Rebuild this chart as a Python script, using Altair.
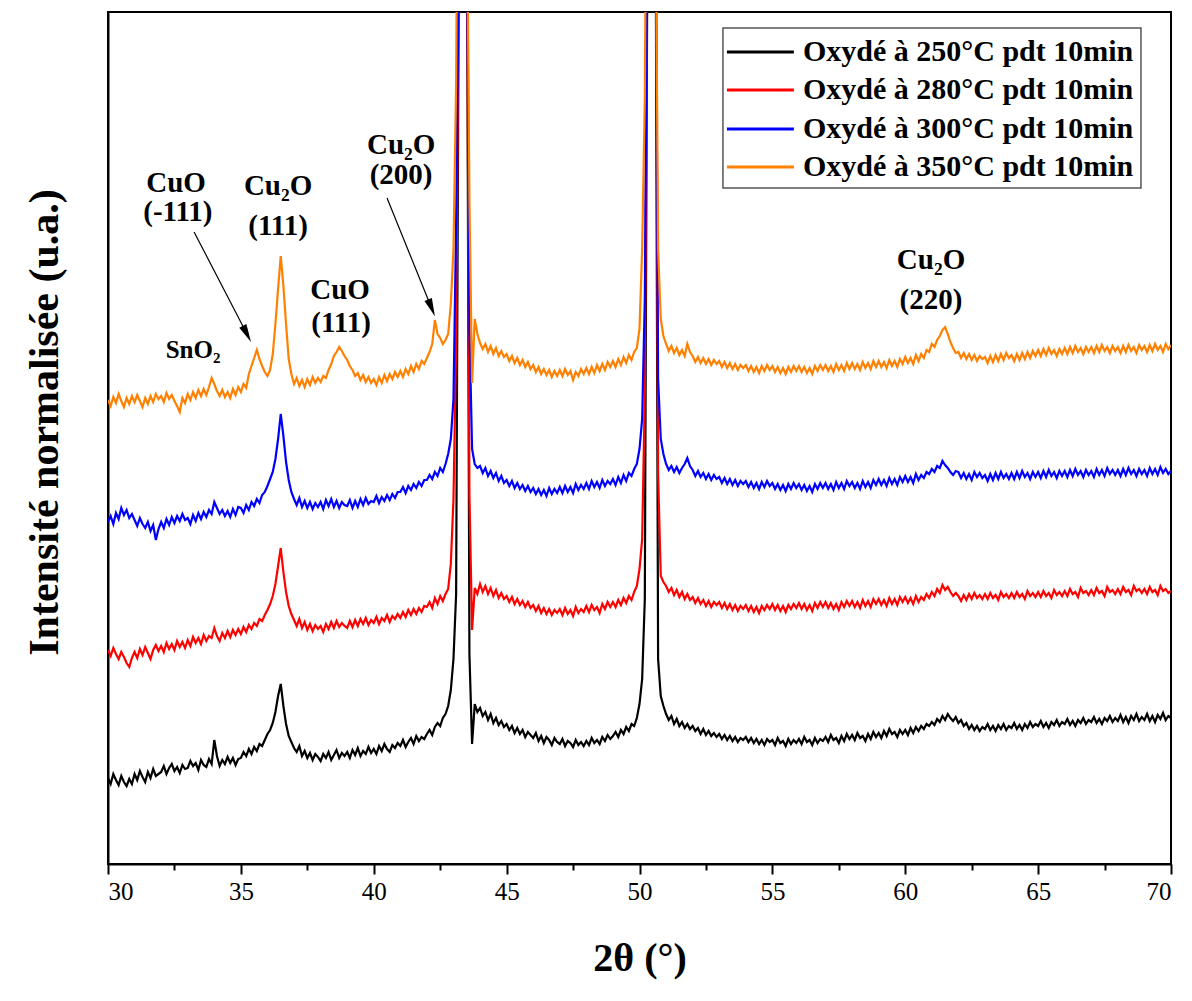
import altair as alt
import pandas as pd

SERIES = ["Oxydé à 250°C pdt 10min", "Oxydé à 280°C pdt 10min",
          "Oxydé à 300°C pdt 10min", "Oxydé à 350°C pdt 10min"]
COLORS = ["#000000", "#ff0000", "#0000ff", "#ff8000"]

# Each row holds one degree of 2θ (N.0 ... N.9, step 0.1), starting at 30°
BLACK = [
    [86, 80, 90, 84, 79, 88, 82, 78, 85, 80],
    [90, 84, 93, 87, 82, 92, 86, 95, 88, 90],
    [92, 98, 90, 96, 100, 93, 97, 91, 99, 95],
    [96, 103, 98, 101, 94, 104, 99, 97, 105, 100],
    [124, 108, 98, 104, 100, 107, 101, 106, 99, 105],
    [106, 112, 108, 115, 110, 117, 113, 120, 118, 124],
    [130, 134, 141, 152, 168, 180, 158, 140, 128, 122],
    [116, 112, 118, 108, 113, 106, 111, 104, 110, 107],
    [103, 110, 106, 112, 104, 109, 114, 106, 111, 108],
    [112, 106, 114, 109, 116, 108, 113, 110, 117, 111],
    [115, 110, 118, 113, 120, 115, 112, 119, 116, 121],
    [118, 124, 117, 122, 126, 120, 128, 123, 127, 125],
    [130, 134, 129, 137, 141, 138, 146, 150, 158, 174],
    [205, 270, 900, 3000, 3000, 1000, 210, 120, 160, 152],
    [156, 148, 152, 144, 150, 141, 146, 139, 143, 137],
    [140, 134, 138, 131, 136, 130, 134, 127, 132, 129],
    [126, 131, 123, 128, 121, 127, 124, 119, 126, 122],
    [120, 125, 118, 123, 121, 117, 124, 119, 122, 118],
    [123, 119, 126, 121, 124, 120, 127, 123, 129, 125],
    [128, 132, 127, 134, 130, 137, 133, 140, 138, 146],
    [160, 185, 265, 950, 3000, 3000, 1000, 205, 168, 158],
    [150, 144, 148, 140, 145, 138, 142, 136, 140, 135],
    [138, 133, 136, 130, 135, 129, 133, 128, 131, 127],
    [130, 125, 129, 124, 128, 123, 127, 122, 126, 124],
    [127, 122, 126, 121, 125, 120, 124, 119, 125, 122],
    [124, 119, 126, 121, 123, 118, 125, 120, 124, 121],
    [125, 120, 127, 122, 124, 119, 126, 121, 125, 123],
    [127, 122, 129, 124, 126, 121, 128, 123, 130, 125],
    [129, 124, 131, 126, 128, 123, 130, 125, 132, 127],
    [131, 126, 133, 128, 135, 130, 132, 127, 134, 130],
    [134, 129, 136, 131, 137, 133, 138, 135, 140, 138],
    [142, 139, 145, 142, 148, 144, 150, 146, 143, 147],
    [141, 144, 138, 141, 135, 139, 134, 138, 133, 137],
    [135, 140, 134, 138, 133, 139, 135, 140, 134, 138],
    [136, 141, 135, 139, 134, 140, 136, 142, 137, 140],
    [138, 143, 137, 141, 136, 142, 139, 144, 138, 142],
    [140, 145, 139, 143, 138, 144, 141, 146, 140, 144],
    [142, 147, 141, 145, 140, 146, 143, 148, 142, 146],
    [143, 149, 142, 147, 141, 148, 144, 150, 143, 147],
    [144, 150, 143, 148, 142, 149, 145, 151, 144, 148],
    [146],
]

RED = [
    [214, 208, 216, 210, 205, 212, 207, 201, 197, 206],
    [212, 206, 215, 209, 217, 211, 205, 214, 219, 213],
    [218, 212, 221, 215, 220, 214, 223, 217, 222, 216],
    [224, 218, 227, 221, 226, 220, 229, 223, 228, 226],
    [236, 228, 223, 231, 226, 233, 227, 234, 229, 235],
    [230, 237, 232, 239, 235, 241, 238, 245, 243, 249],
    [254, 260, 268, 280, 298, 316, 292, 272, 258, 250],
    [244, 238, 245, 236, 242, 234, 240, 233, 239, 235],
    [238, 232, 240, 235, 242, 236, 243, 237, 241, 238],
    [236, 243, 237, 244, 238, 245, 240, 246, 239, 244],
    [241, 247, 240, 246, 243, 249, 242, 248, 245, 250],
    [246, 252, 247, 254, 249, 255, 250, 256, 252, 258],
    [257, 262, 256, 266, 260, 268, 263, 270, 275, 300],
    [365, 520, 900, 3000, 3000, 1000, 370, 234, 276, 270],
    [280, 272, 278, 270, 276, 268, 274, 266, 271, 265],
    [268, 262, 267, 260, 265, 259, 263, 257, 262, 256],
    [259, 253, 258, 251, 256, 250, 255, 249, 254, 251],
    [255, 249, 256, 250, 254, 248, 257, 251, 255, 252],
    [258, 252, 259, 254, 257, 251, 260, 255, 262, 257],
    [262, 257, 264, 259, 266, 261, 268, 264, 272, 278],
    [295, 325, 470, 950, 3000, 3000, 1000, 390, 288, 282],
    [278, 272, 276, 269, 274, 267, 272, 265, 270, 264],
    [267, 261, 266, 260, 264, 258, 263, 257, 262, 259],
    [262, 256, 261, 255, 260, 254, 259, 253, 258, 255],
    [259, 253, 258, 252, 257, 251, 258, 254, 259, 255],
    [260, 254, 259, 253, 258, 252, 259, 255, 260, 256],
    [261, 255, 260, 254, 259, 253, 261, 256, 262, 257],
    [262, 256, 261, 255, 260, 254, 262, 257, 263, 258],
    [263, 257, 262, 256, 264, 258, 263, 257, 265, 260],
    [265, 259, 264, 258, 266, 260, 265, 259, 267, 262],
    [267, 261, 266, 260, 268, 262, 267, 264, 270, 266],
    [272, 268, 275, 271, 279, 274, 277, 272, 268, 271],
    [268, 263, 269, 264, 270, 265, 271, 266, 269, 265],
    [270, 265, 271, 266, 269, 264, 272, 267, 270, 266],
    [271, 266, 272, 267, 270, 265, 273, 268, 271, 267],
    [272, 267, 273, 268, 271, 266, 274, 269, 272, 268],
    [273, 268, 275, 270, 272, 267, 276, 271, 273, 269],
    [274, 269, 276, 271, 273, 268, 277, 272, 274, 270],
    [275, 270, 277, 272, 274, 269, 278, 273, 275, 271],
    [275, 270, 277, 272, 274, 269, 278, 273, 275, 271],
    [273],
]

BLUE = [
    [342, 348, 340, 351, 345, 356, 349, 354, 346, 350],
    [344, 338, 346, 340, 336, 342, 333, 339, 324, 335],
    [342, 336, 345, 339, 347, 341, 348, 343, 350, 344],
    [346, 340, 349, 343, 351, 345, 352, 347, 354, 350],
    [362, 356, 350, 354, 348, 353, 347, 355, 349, 357],
    [356, 351, 359, 354, 362, 358, 365, 361, 369, 372],
    [378, 385, 392, 405, 425, 450, 428, 402, 384, 372],
    [365, 359, 366, 357, 363, 356, 362, 355, 361, 357],
    [362, 355, 364, 358, 365, 357, 363, 356, 362, 359],
    [358, 364, 356, 363, 357, 365, 359, 366, 360, 363],
    [362, 368, 361, 367, 363, 369, 364, 370, 366, 372],
    [372, 377, 371, 378, 374, 380, 376, 382, 378, 384],
    [384, 389, 385, 392, 388, 396, 392, 400, 410, 425],
    [465, 640, 900, 3000, 3000, 1000, 535, 415, 400, 396],
    [398, 391, 396, 388, 393, 386, 391, 383, 388, 381],
    [384, 378, 383, 376, 381, 375, 379, 373, 378, 372],
    [376, 370, 375, 369, 374, 368, 376, 370, 375, 371],
    [377, 371, 378, 372, 377, 371, 380, 374, 379, 375],
    [381, 375, 383, 377, 382, 376, 384, 378, 383, 380],
    [385, 379, 387, 381, 389, 383, 391, 388, 395, 400],
    [415, 445, 565, 950, 3000, 3000, 1000, 485, 425, 410],
    [400, 394, 398, 392, 397, 391, 396, 400, 406, 398],
    [394, 388, 393, 387, 391, 385, 390, 384, 389, 385],
    [387, 381, 386, 380, 385, 379, 384, 378, 383, 380],
    [383, 377, 382, 376, 381, 375, 382, 377, 383, 378],
    [381, 375, 380, 374, 379, 373, 380, 375, 381, 376],
    [380, 374, 379, 373, 378, 372, 380, 375, 381, 376],
    [381, 375, 380, 374, 382, 376, 381, 375, 383, 378],
    [382, 376, 381, 375, 383, 377, 382, 376, 384, 379],
    [385, 379, 384, 378, 386, 380, 385, 379, 387, 382],
    [388, 382, 387, 381, 390, 384, 389, 386, 392, 390],
    [395, 392, 398, 396, 403, 399, 396, 392, 389, 393],
    [392, 386, 391, 385, 390, 384, 392, 387, 391, 386],
    [389, 383, 390, 384, 391, 385, 392, 386, 390, 385],
    [391, 385, 392, 386, 393, 387, 391, 385, 392, 387],
    [392, 386, 393, 387, 394, 388, 392, 386, 393, 388],
    [393, 387, 394, 388, 395, 389, 393, 387, 394, 389],
    [393, 387, 395, 389, 394, 388, 396, 390, 394, 389],
    [394, 388, 395, 389, 396, 390, 394, 388, 395, 390],
    [394, 388, 396, 390, 395, 389, 397, 391, 395, 390],
    [393],
]

ORANGE = [
    [464, 458, 467, 461, 470, 463, 457, 466, 460, 468],
    [462, 469, 463, 457, 466, 460, 468, 462, 470, 465],
    [468, 462, 471, 465, 469, 463, 458, 452, 466, 461],
    [470, 464, 472, 466, 474, 468, 475, 469, 477, 486],
    [480, 473, 468, 474, 467, 472, 466, 475, 469, 477],
    [472, 480, 476, 490, 498, 506, 514, 505, 498, 492],
    [488, 494, 510, 540, 575, 608, 578, 540, 505, 490],
    [480, 486, 478, 484, 477, 485, 479, 487, 481, 486],
    [482, 488, 486, 494, 500, 508, 512, 517, 513, 508],
    [504, 498, 494, 488, 491, 484, 489, 482, 487, 481],
    [485, 479, 487, 481, 489, 483, 490, 485, 492, 487],
    [493, 487, 495, 490, 498, 492, 500, 495, 503, 500],
    [506, 512, 520, 544, 530, 526, 520, 524, 530, 560],
    [615, 780, 1200, 3000, 3000, 1000, 665, 481, 545, 530],
    [521, 515, 520, 512, 518, 510, 516, 508, 513, 507],
    [510, 503, 508, 501, 506, 499, 504, 497, 502, 495],
    [499, 492, 497, 490, 495, 489, 494, 487, 493, 488],
    [494, 488, 495, 489, 493, 484, 492, 488, 495, 490],
    [496, 490, 497, 491, 499, 493, 500, 494, 502, 497],
    [503, 497, 505, 499, 507, 501, 509, 504, 512, 516],
    [535, 615, 765, 1200, 3000, 3000, 1000, 615, 545, 528],
    [520, 513, 518, 511, 516, 509, 514, 508, 520, 512],
    [508, 502, 507, 501, 506, 500, 505, 499, 504, 500],
    [503, 497, 502, 496, 501, 495, 500, 494, 499, 496],
    [499, 493, 498, 492, 497, 491, 498, 493, 499, 494],
    [498, 492, 497, 491, 496, 490, 497, 492, 498, 493],
    [498, 492, 497, 491, 496, 490, 498, 493, 499, 494],
    [499, 493, 498, 492, 500, 494, 499, 493, 501, 495],
    [501, 495, 500, 494, 502, 496, 501, 495, 503, 497],
    [503, 497, 502, 496, 504, 498, 503, 497, 505, 500],
    [507, 501, 506, 500, 509, 503, 510, 506, 514, 512],
    [520, 517, 524, 528, 534, 537, 530, 522, 516, 511],
    [512, 506, 511, 505, 510, 504, 509, 503, 508, 505],
    [507, 501, 508, 502, 509, 503, 510, 504, 511, 506],
    [509, 503, 510, 504, 511, 505, 512, 506, 513, 508],
    [514, 508, 515, 509, 516, 510, 514, 508, 515, 510],
    [516, 510, 517, 511, 518, 512, 516, 510, 517, 512],
    [517, 511, 518, 512, 519, 513, 517, 511, 518, 513],
    [517, 511, 518, 512, 519, 513, 517, 511, 519, 514],
    [518, 512, 519, 513, 520, 514, 518, 512, 520, 515],
    [519],
]

X0 = 30
DX = 0.1

# Annotations (peak labels)
ANNOT_TEXT = ["CuO", "(-111)", "Cu₂O", "(111)", "CuO", "(111)",
              "Cu₂O", "(200)", "Cu₂O", "(220)", "SnO₂"]
ANNOT_X = [32.56, 32.63, 36.40, 36.40, 38.73, 38.77, 41.03, 41.03, 60.97, 60.97, 33.20]
ANNOT_Y = [681, 652, 678, 638, 574, 541, 719, 689, 604, 564, 514]
ANNOT_SIZE = [29, 29, 29, 29, 29, 29, 29, 29, 29, 29, 25]

# Arrows
ARROW_X1 = [33.24, 40.50]
ARROW_Y1 = [632, 666]
ARROW_X2 = [35.21, 42.16]
ARROW_Y2 = [531, 557]
ARROW_ANGLE = [153, 158]

# Legend box (framed, top right of the plot)
LEGEND_BOX = {"x": 53.14, "x2": 68.87, "y": 676, "y2": 836}
LEGEND_ROW_Y = [812, 774, 735, 697]
LEGEND_SAMPLE_X = [53.29, 55.81]
LEGEND_TEXT_X = 56.15

FONT = "Liberation Serif"

records = []
for name, rows in zip(SERIES, [BLACK, RED, BLUE, ORANGE]):
    for k, row in enumerate(rows):
        for i, v in enumerate(row):
            records.append({"serie": name, "x": round(X0 + k + i * DX, 2), "y": v})
df = pd.DataFrame(records)

ann = pd.DataFrame({"x": ANNOT_X, "y": ANNOT_Y, "label": ANNOT_TEXT, "fs": ANNOT_SIZE})
arr = pd.DataFrame({"x": ARROW_X1, "y": ARROW_Y1, "x2": ARROW_X2, "y2": ARROW_Y2})
heads = pd.DataFrame({"x": ARROW_X2, "y": ARROW_Y2, "a": ARROW_ANGLE})
box = pd.DataFrame([LEGEND_BOX])
leg = pd.DataFrame({
    "serie": SERIES, "y": LEGEND_ROW_Y,
    "x": [LEGEND_SAMPLE_X[0]] * 4, "x2": [LEGEND_SAMPLE_X[1]] * 4,
    "xt": [LEGEND_TEXT_X] * 4,
})

xscale = alt.Scale(domain=[30, 70], nice=False)
yscale = alt.Scale(domain=[0, 852], nice=False, zero=False)
cscale = alt.Scale(domain=SERIES, range=COLORS)

tick_vals = [30 + 2.5 * i for i in range(17)]
x_axis = alt.Axis(
    values=tick_vals,
    format=".0f",
    labelExpr="datum.value % 5 === 0 ? datum.label : ''",
    tickSize={"condition": {"test": "datum.value % 5 === 0", "value": 10}, "value": 6},
    tickWidth=2, tickColor="black", domainColor="black", domainWidth=2,
    labelFont=FONT, labelFontSize=25, labelColor="black", labelPadding=5,
    title="2θ (°)", titleFont=FONT, titleFontSize=40, titleFontWeight="bold",
    titleColor="black", titlePadding=34, grid=False,
)
y_axis = alt.Axis(
    labels=False, ticks=False, grid=False, domainColor="black", domainWidth=2,
    title="Intensité normalisée (u.a.)", titleFont=FONT, titleFontSize=42,
    titleFontWeight="bold", titleColor="black", titlePadding=42, titleY=410,
)

lines = alt.Chart(df).mark_line(strokeWidth=2.2, clip=True).encode(
    x=alt.X("x:Q", scale=xscale, axis=x_axis),
    y=alt.Y("y:Q", scale=yscale, axis=y_axis),
    color=alt.Color("serie:N", scale=cscale, legend=None),
)

rules = alt.Chart(arr).mark_rule(color="black", strokeWidth=1.2).encode(
    x="x:Q", y="y:Q", x2="x2:Q", y2="y2:Q"
)

arrow_heads = alt.Chart(heads).mark_point(
    shape="M0,-1L0.4,0.8L-0.4,0.8Z", filled=True, color="black", opacity=1, size=400
).encode(x="x:Q", y="y:Q", angle=alt.Angle("a:Q", scale=None))

texts = alt.Chart(ann).mark_text(
    font=FONT, fontWeight="bold", color="black", baseline="middle", align="center"
).encode(x="x:Q", y="y:Q", text="label:N", size=alt.Size("fs:Q", scale=None))

legend_box = alt.Chart(box).mark_rect(
    fill="white", stroke="#555555", strokeWidth=1.5
).encode(x="x:Q", x2="x2:Q", y="y:Q", y2="y2:Q")

legend_lines = alt.Chart(leg).mark_rule(strokeWidth=3).encode(
    x="x:Q", x2="x2:Q", y="y:Q",
    color=alt.Color("serie:N", scale=cscale, legend=None),
)

legend_text = alt.Chart(leg).mark_text(
    font=FONT, fontWeight="bold", fontSize=30, color="black",
    align="left", baseline="middle",
).encode(x="xt:Q", y="y:Q", text="serie:N")

chart = alt.layer(
    lines, rules, arrow_heads, texts, legend_box, legend_lines, legend_text
).properties(
    width=1063, height=852, background="white",
    padding={"left": 15, "top": 4, "right": 5, "bottom": 5},
).configure_view(stroke="black", strokeWidth=2)

chart.save("out.html", embed_options={"renderer": "svg", "actions": False})
